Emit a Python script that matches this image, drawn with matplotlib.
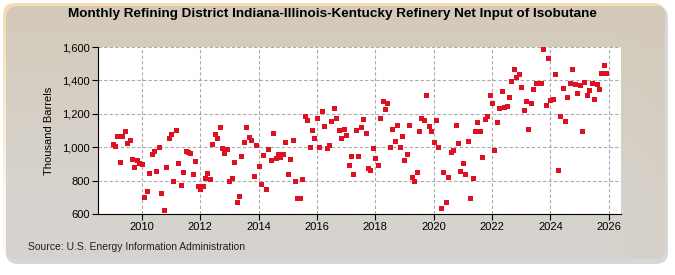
import numpy as np
import pandas as pd
import matplotlib
matplotlib.use('Agg')
import matplotlib.pyplot as plt
from matplotlib.patches import FancyBboxPatch
from matplotlib.ticker import FuncFormatter

# monthly values, Jan 2009 .. Dec 2025 (thousand barrels)
y2009 = [1018, 1006, 1066, 911, 1066, 1098, 1026, 1044, 929, 881, 921, 905]
y2010 = [899, 700, 737, 845, 957, 975, 855, 1002, 725, 622, 881, 1056]
y2011 = [1078, 797, 1104, 905, 773, 851, 977, 971, 965, 839, 917, 767]
y2012 = [749, 767, 815, 845, 809, 1020, 1080, 1056, 1122, 996, 965, 990]
y2013 = [797, 815, 911, 670, 706, 947, 1032, 1122, 1062, 1044, 827, 1014]
y2014 = [887, 779, 953, 749, 990, 923, 1086, 935, 959, 941, 959, 1032]
y2015 = [839, 929, 1044, 797, 694, 694, 809, 1188, 1164, 1002, 1104, 1056]
y2016 = [1176, 1002, 1218, 1128, 996, 1014, 1158, 1237, 1176, 1104, 1056, 1110]
y2017 = [1074, 893, 947, 839, 1104, 947, 1122, 1170, 1086, 875, 863, 996]
y2018 = [935, 893, 1176, 1279, 1231, 1267, 1002, 1110, 1038, 1134, 1002, 1068]
y2019 = [923, 959, 1134, 821, 797, 851, 1098, 1176, 1164, 1315, 1128, 1098]
y2020 = [1032, 1164, 1002, 634, 851, 670, 821, 971, 984, 1134, 1026, 857]
y2021 = [905, 839, 1038, 694, 815, 1098, 1152, 1098, 941, 1170, 1188, 1315]
y2022 = [1267, 984, 1152, 1237, 1339, 1243, 1249, 1303, 1394, 1466, 1418, 1436]
y2023 = [1363, 1225, 1279, 1110, 1267, 1351, 1382, 1382, 1382, 1586, 1255, 1532]
y2024 = [1285, 1291, 1436, 863, 1188, 1357, 1158, 1303, 1382, 1466, 1376, 1327]
y2025 = [1370, 1098, 1388, 1315, 1345, 1382, 1291, 1376, 1351, 1442, 1490, 1446]

values = (y2009 + y2010 + y2011 + y2012 + y2013 + y2014 + y2015 + y2016 +
          y2017 + y2018 + y2019 + y2020 + y2021 + y2022 + y2023 + y2024 + y2025)
dates = pd.date_range('2009-01-01', periods=len(values), freq='MS')
xvals = dates.year + (dates.month - 1) / 12.0

title = 'Monthly Refining District Indiana-Illinois-Kentucky Refinery Net Input of Isobutane'
ylabel = 'Thousand Barrels'
source = 'Source: U.S. Energy Information Administration'
xticks = [2010, 2012, 2014, 2016, 2018, 2020, 2022, 2024, 2026]
yticks = [600, 800, 1000, 1200, 1400, 1600]

FONT = ['Liberation Sans', 'DejaVu Sans']

fig = plt.figure(figsize=(6.75, 2.75), dpi=100)
fig.patch.set_facecolor('white')

# beige gradient panel behind everything
bg = fig.add_axes([0, 0, 1, 1], zorder=-10)
bg.set_xlim(0, 675)
bg.set_ylim(275, 0)
bg.axis('off')
h, w = 260, 665
yy = np.linspace(0, 1, h)[:, None]
xx = np.linspace(0, 1, w)[None, :]
top = np.array([245, 220, 178]) / 255.0
bot = np.array([253, 246, 234]) / 255.0
t = np.clip(yy * 1.3, 0, 1)
img = top[None, None, :] * (1 - t[..., None]) + bot[None, None, :] * t[..., None]
img = img * np.ones((1, w, 1))
edge = np.clip((xx - 0.9) / 0.1, 0, 1)[..., None]
img = img * (1 - 0.4 * edge) + top[None, None, :] * 0.4 * edge
shadow = FancyBboxPatch((6, 6), 662, 258, boxstyle='round,pad=0,rounding_size=12',
                        fc='#bdbdbd', ec='none', alpha=0.6)
bg.add_patch(shadow)
panel = FancyBboxPatch((3, 3), 662, 256, boxstyle='round,pad=0,rounding_size=12',
                       fc='none', ec='none')
bg.add_patch(panel)
im = bg.imshow(img, extent=(3, 665, 259, 3), aspect='auto')
im.set_clip_path(panel)

ax = fig.add_axes([98 / 675, 1 - 214 / 275, (621 - 98) / 675, (214 - 47) / 275])
ax.set_facecolor('white')
ax.plot(xvals, values, linestyle='none', marker='s', markersize=3.6,
        color='#DD1122', markeredgewidth=0)

ax.set_xlim(2008.5, 2026.42)
ax.set_ylim(600, 1600)
ax.set_xticks(xticks)
ax.set_yticks(yticks)
ax.yaxis.set_major_formatter(FuncFormatter(lambda v, p: f'{int(v):,}'))
ax.grid(True, color='#aaaaaa', linestyle=(0, (3, 2)), linewidth=0.8)
ax.set_axisbelow(True)
for s in ['top', 'right']:
    ax.spines[s].set_visible(False)
ax.spines['left'].set_color('black')
ax.spines['bottom'].set_color('black')
ax.tick_params(axis='both', labelsize=8, length=4, color='black', pad=2)
for lab in ax.get_xticklabels() + ax.get_yticklabels():
    lab.set_family(FONT)
ax.set_ylabel(ylabel, fontsize=8, family=FONT, labelpad=6)

fig.text(332 / 675, 1 - 14 / 275, title, ha='center', va='center', fontsize=9.7,
         fontweight='bold', family=FONT)
fig.text(28 / 675, 1 - 247 / 275, source, ha='left', va='center', fontsize=7.5,
         family=FONT, color='#222222')

fig.savefig('out.png', dpi=100)
